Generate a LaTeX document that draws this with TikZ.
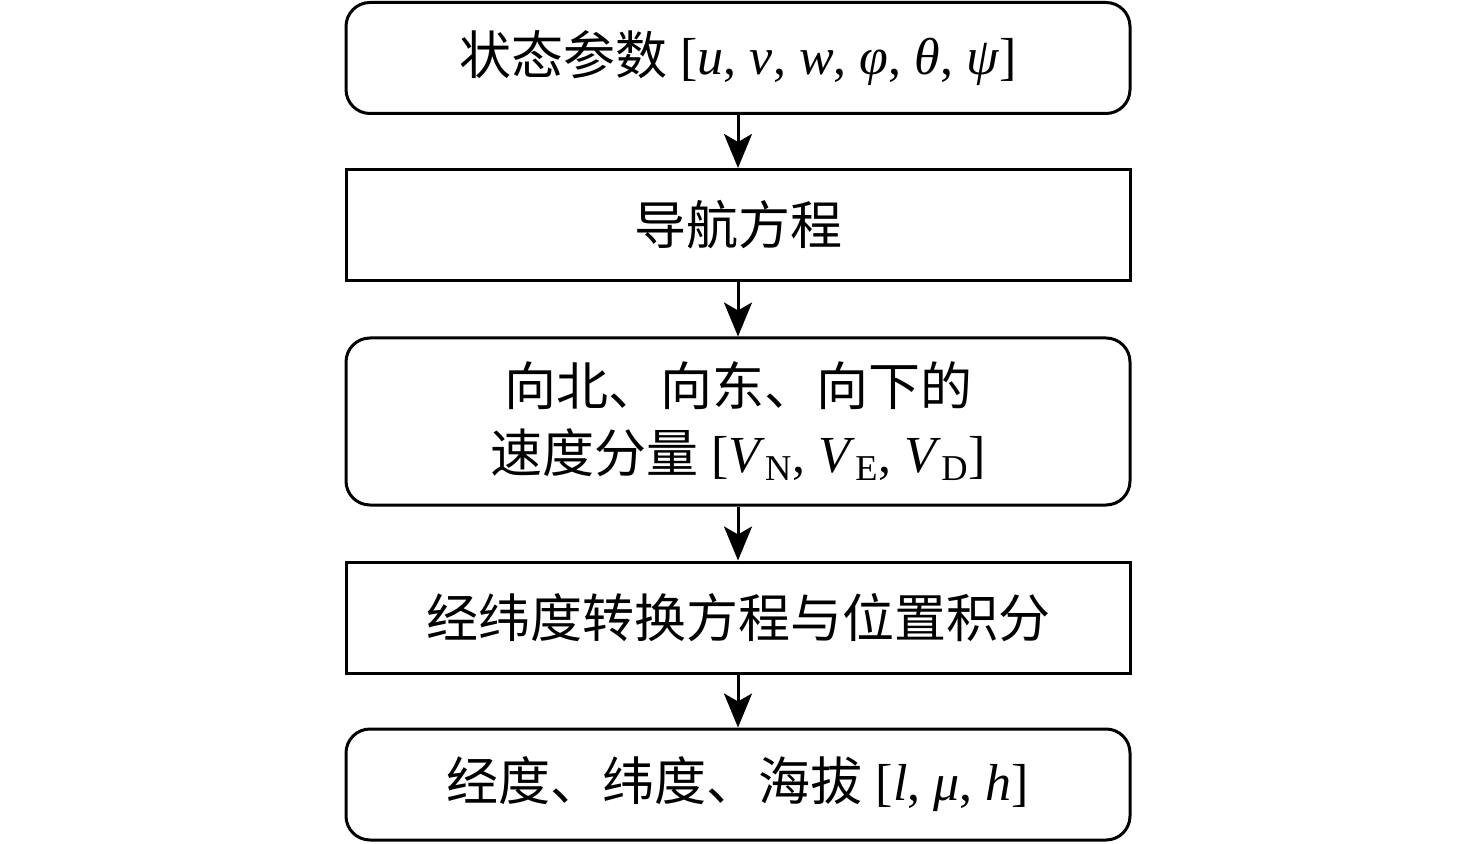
\documentclass[tikz,border=0pt]{standalone}
\usepackage{fontspec}
\setmainfont{Liberation Serif}
\newfontfamily\cjk{Noto Sans CJK SC}
\usetikzlibrary{arrows.meta}
\begin{document}
\begin{tikzpicture}[x=0.5pt,y=-0.5pt,
  box/.style={draw,line width=1.5pt,minimum width=392pt,minimum height=55.5pt,inner sep=0pt,align=center,font=\fontsize{26}{33.5}\selectfont},
  rbox/.style={box,rounded corners=12pt},
  arr/.style={line width=1.5pt,-{Stealth[length=17pt,width=14pt,inset=4pt]}}]
\useasboundingbox (0,0) rectangle (1476,844);
\node[rbox] (s) at (738,58) {{\cjk 状态参数} [\textit{u}, \textit{v}, \textit{w}, \textit{φ}, \textit{θ}, \textit{ψ}]};
\node[box] (n) at (738,225) {\cjk 导航方程};
\node[rbox,minimum height=83.5pt] (v) at (738,421.5) {{\cjk 向北、向东、向下的}\\{\cjk 速度分量} [\textit{V}\textsubscript{N}, \textit{V}\textsubscript{E}, \textit{V}\textsubscript{D}]};
\node[box] (p) at (738,617.5) {\cjk 经纬度转换方程与位置积分};
\node[rbox] (o) at (738,784.5) {{\cjk 经度、纬度、海拔} [\textit{l}, \textit{μ}, \textit{h}]};
\draw[arr] (s) -- (n);
\draw[arr] (n) -- (v);
\draw[arr] (v) -- (p);
\draw[arr] (p) -- (o);
\end{tikzpicture}
\end{document}
